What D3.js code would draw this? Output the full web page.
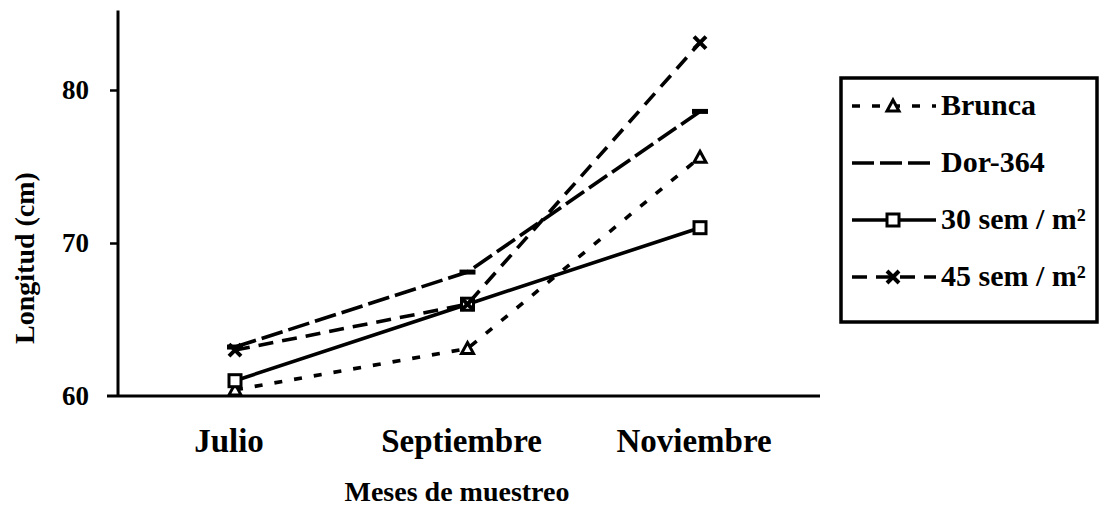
<!DOCTYPE html>
<html>
<head>
<meta charset="utf-8">
<script src="https://cdn.jsdelivr.net/npm/d3@7"></script>
<style>
  body { margin: 0; background: #fff; }
  svg text { font-family: "Liberation Serif", "Times New Roman", serif; font-weight: bold; fill: #000; }
</style>
</head>
<body>
<div id="chart"></div>
<script>
// data
const months = ["Julio", "Septiembre", "Noviembre"];
const brunca = [60.4, 63.1, 75.6];
const dor364 = [63.2, 68.1, 78.6];
const sem30 = [61.0, 66.0, 71.0];
const sem45 = [63.0, 66.0, 83.1];
const yTicks = [60, 70, 80];

const seriesList = [
    { name: "Brunca", values: brunca, dash: "8,12", marker: "triangle" },
    { name: "Dor-364", values: dor364, dash: "22,6", marker: "dash" },
    { name: "30 sem / m\u00B2", values: sem30, dash: null, marker: "square" },
    { name: "45 sem / m\u00B2", values: sem45, dash: "15,9", marker: "cross" }
];

const width = 1102, height = 506;

const svg = d3.select('#chart')
    .append('svg')
    .attr('width', width)
    .attr('height', height);

const x = d3.scalePoint().domain(months).range([235, 700]);
const y = d3.scaleLinear().domain([60, 80]).range([396, 90]);

// axes
svg.append('line')
    .attr('x1', 107).attr('x2', 820)
    .attr('y1', y(60)).attr('y2', y(60))
    .attr('stroke', '#000').attr('stroke-width', 3);

const yAxis = svg.append('g')
    .attr('transform', 'translate(118,0)')
    .call(d3.axisLeft(y).tickValues(yTicks).tickSize(8).tickPadding(21).tickFormat(d3.format('d')));
yAxis.select('.domain').remove();
yAxis.selectAll('line').attr('stroke', '#000').attr('stroke-width', 2.5);
yAxis.selectAll('text')
    .style('font-size', '27px')
    .style('font-family', '"Liberation Serif", serif')
    .style('font-weight', 'bold');
yAxis.selectAll('.tick').filter(d => d == 60).select('line').remove();

svg.append('line')
    .attr('x1', 118).attr('x2', 118)
    .attr('y1', y(85.2)).attr('y2', y(60))
    .attr('stroke', '#000').attr('stroke-width', 3);

// month labels
svg.selectAll('.month')
    .data(months)
    .enter()
    .append('text')
    .attr('x', d => x(d) - 6)
    .attr('y', 452)
    .attr('text-anchor', 'middle')
    .style('font-size', '33px')
    .text(d => d);

svg.append('text')
    .attr('x', 457).attr('y', 501)
    .attr('text-anchor', 'middle')
    .style('font-size', '28px')
    .text('Meses de muestreo');

svg.append('text')
    .attr('transform', 'translate(34,258) rotate(-90)')
    .attr('text-anchor', 'middle')
    .style('font-size', '28px')
    .text('Longitud (cm)');

function drawMarker(g, type, cx, cy) {
    if (type == 'triangle') {
        g.append('path')
            .attr('d', `M${cx},${cy - 6}L${cx + 6},${cy + 5}L${cx - 6},${cy + 5}Z`)
            .attr('fill', '#fff').attr('stroke', '#000').attr('stroke-width', 3);
    } else if (type == 'square') {
        g.append('rect')
            .attr('x', cx - 6).attr('y', cy - 6)
            .attr('width', 12).attr('height', 12)
            .attr('fill', '#fff').attr('stroke', '#000').attr('stroke-width', 3);
    } else if (type == 'cross') {
        g.append('path')
            .attr('d', `M${cx - 6},${cy - 6}L${cx + 6},${cy + 6}M${cx + 6},${cy - 6}L${cx - 6},${cy + 6}`)
            .attr('stroke', '#000').attr('stroke-width', 4);
    } else if (type == 'dash') {
        g.append('line')
            .attr('x1', cx - 8).attr('x2', cx + 8)
            .attr('y1', cy).attr('y2', cy)
            .attr('stroke', '#000').attr('stroke-width', 5);
    }
}

const line = d3.line()
    .x((d, i) => x(months[i]))
    .y(d => y(d));

seriesList.forEach((s) => {
    let g = svg.append('g');
    g.append('path')
        .datum(s.values)
        .attr('d', line)
        .attr('fill', 'none')
        .attr('stroke', '#000')
        .attr('stroke-width', 3.6)
        .attr('stroke-dasharray', s.dash);
    s.values.forEach((v, i) => drawMarker(g, s.marker, x(months[i]), y(v)));
});

// legend
const legend = svg.append('g');
legend.append('rect')
    .attr('x', 841).attr('y', 78)
    .attr('width', 256).attr('height', 244)
    .attr('fill', 'none').attr('stroke', '#000').attr('stroke-width', 3.5);

const legendY = d3.scalePoint().domain(seriesList.map(d => d.name)).range([103, 274]);

seriesList.forEach((s) => {
    let ly = legendY(s.name);
    legend.append('line')
        .attr('x1', 852).attr('x2', 936)
        .attr('y1', ly + 3).attr('y2', ly + 3)
        .attr('stroke', '#000').attr('stroke-width', 3.5)
        .attr('stroke-dasharray', s.dash);
    if (s.marker != 'dash') drawMarker(legend, s.marker, 893, ly + 3);
    legend.append('text')
        .attr('x', 941).attr('y', ly + 12)
        .style('font-size', '30px')
        .text(s.name);
});
</script>
</body>
</html>
